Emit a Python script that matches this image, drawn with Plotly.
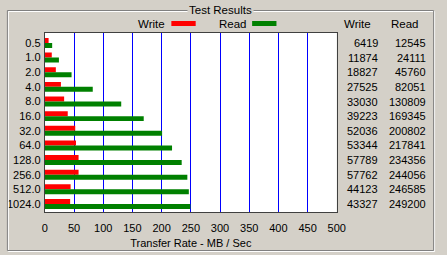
import plotly.graph_objects as go

W, H = 447, 255
BG = "#D4D0C8"
FONT = "Liberation Sans, Arial, sans-serif"

labels = ["0.5", "1.0", "2.0", "4.0", "8.0", "16.0", "32.0", "64.0",
          "128.0", "256.0", "512.0", "1024.0"]
write_kb = [6419, 11874, 18827, 27525, 33030, 39223, 52036, 53344, 57789, 57762, 44123, 43327]
read_kb = [12545, 24111, 45760, 82051, 130809, 169345, 200802, 217841, 234356, 244056, 246585, 249200]
x_ticks = [0, 50, 100, 150, 200, 250, 300, 350, 400, 450, 500]


def px(x):
    return x / W


def py(y):
    return 1 - y / H


fig = go.Figure()
fig.add_trace(go.Bar(y=labels, x=[v / 1000 for v in write_kb], orientation="h",
                     marker=dict(color="#FF0000", line=dict(width=0)), name="Write"))
fig.add_trace(go.Bar(y=labels, x=[v / 1000 for v in read_kb], orientation="h",
                     marker=dict(color="#008000", line=dict(width=0)), name="Read"))

n = len(labels)
fig.update_layout(
    width=W, height=H, margin=dict(l=0, r=0, t=0, b=0),
    paper_bgcolor=BG, plot_bgcolor="white", showlegend=False,
    barmode="group", bargap=0.32, bargroupgap=0,
    font=dict(family=FONT, size=11, color="black"),
    xaxis=dict(domain=[px(43), px(343)], range=[0, 500], tickvals=x_ticks,
               showgrid=True, gridcolor="#0000FF", gridwidth=1, zeroline=False,
               showline=True, linecolor="#404040", linewidth=1, mirror=True,
               ticks="outside", ticklen=6, tickcolor=BG,
               title=dict(text="Transfer Rate - MB / Sec", standoff=6,
                          font=dict(size=11))),
    yaxis=dict(domain=[py(212), py(33)], type="category", categoryorder="array",
               categoryarray=labels, range=[n - 0.45, -0.68],
               showgrid=False, zeroline=False, showline=True, linecolor="#404040",
               linewidth=1, mirror=True, ticks="outside", ticklen=1, tickcolor=BG),
)

shapes = []
# group box (etched)
shapes.append(dict(type="rect", xref="paper", yref="paper", x0=px(5.5), x1=px(443.5),
                   y0=py(251.5), y1=py(11.5), line=dict(color="white", width=1)))
shapes.append(dict(type="rect", xref="paper", yref="paper", x0=px(4.5), x1=px(442.5),
                   y0=py(250.5), y1=py(10.5), line=dict(color="#808080", width=1)))
# legend swatches
shapes.append(dict(type="rect", xref="paper", yref="paper", x0=px(173), x1=px(198),
                   y0=py(26), y1=py(21), fillcolor="#FF0000", line=dict(width=0)))
shapes.append(dict(type="rect", xref="paper", yref="paper", x0=px(256), x1=px(281),
                   y0=py(26), y1=py(21), fillcolor="#008000", line=dict(width=0)))
fig.update_layout(shapes=shapes)

ann = []
ann.append(dict(text="Test Results", xref="paper", yref="paper", x=px(224), y=py(10),
                xanchor="center", yanchor="middle", showarrow=False, bgcolor=BG,
                borderpad=1, font=dict(size=11.5)))
for t, xc in [("Write", 152.5), ("Read", 236), ("Write", 364.5), ("Read", 413.5)]:
    ann.append(dict(text=t, xref="paper", yref="paper", x=px(xc), y=py(24),
                    xanchor="center", yanchor="middle", showarrow=False,
                    font=dict(size=11.5)))
for i, (w, r) in enumerate(zip(write_kb, read_kb)):
    ann.append(dict(text=str(w), xref="paper", yref="y", x=px(387), y=i,
                    xanchor="right", yanchor="middle", showarrow=False))
    ann.append(dict(text=str(r), xref="paper", yref="y", x=px(436.5), y=i,
                    xanchor="right", yanchor="middle", showarrow=False))
fig.update_layout(annotations=ann)

fig.write_html("out.html")
